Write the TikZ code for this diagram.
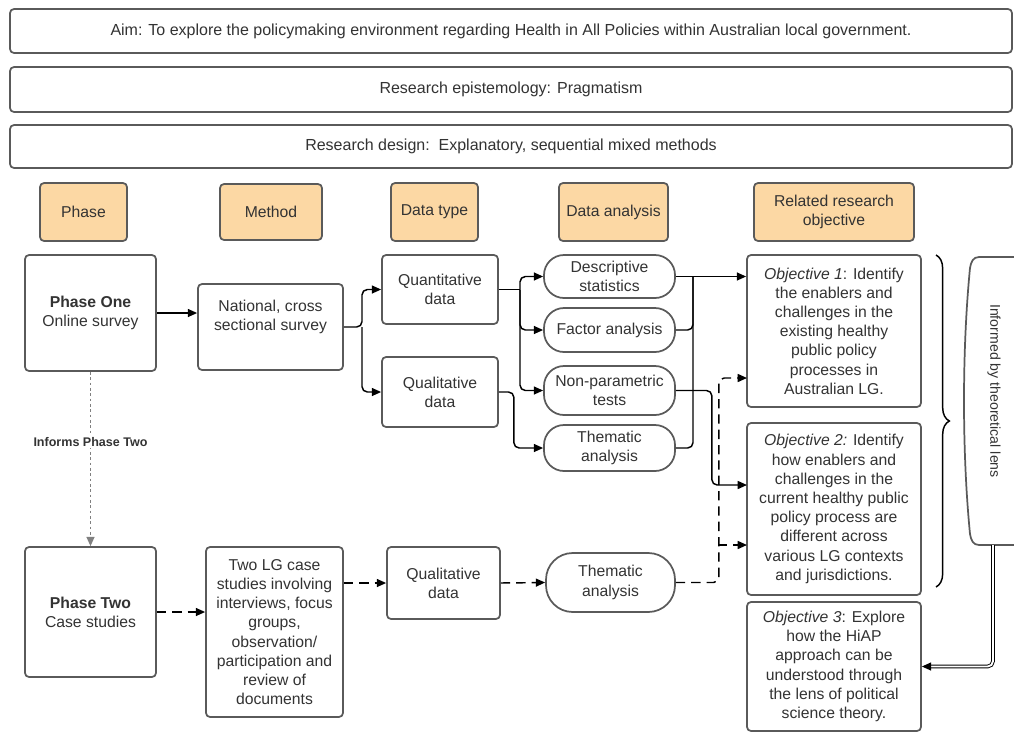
\documentclass[tikz,border=0pt]{standalone}
\usepackage{fontspec}
\setmainfont{Liberation Sans}
\usetikzlibrary{arrows.meta,decorations.pathreplacing,calc}
\definecolor{bord}{HTML}{5A5A5A}
\definecolor{txt}{HTML}{333333}
\definecolor{hdr}{RGB}{252,216,164}
\begin{document}
\begin{tikzpicture}[x=0.75pt,y=-0.75pt,
 wh/.style 2 args={minimum width=#1*0.75pt, minimum height=#2*0.75pt},
 box/.style={draw=bord, line width=1.3pt, rounded corners=3pt, fill=white, inner sep=0pt, text=txt, align=center, font=\fontsize{11.8}{14.4}\selectfont},
 hbox/.style={box, fill=hdr},
 topbox/.style={box, font=\fontsize{12}{14}\selectfont},
 pill/.style={box, rounded corners=15pt},
 lbl/.style={text=txt, align=center, inner sep=0pt, font=\fontsize{11.8}{14.4}\selectfont},
 conn/.style={draw=black, line width=1.1pt},
 arr/.style={conn, -{Triangle[length=7pt,width=6pt]}},
 dsh/.style={dash pattern=on 7pt off 4.5pt},
]
\useasboundingbox (0,0) rectangle (1014,733);

% top boxes
\node[topbox, wh={1002}{44}] (aim) at (511,31) {Aim: To explore the policymaking environment regarding Health in All Policies within Australian local government.};
\node[topbox, wh={1002}{45}] (epi) at (511,89.5) {Research epistemology: Pragmatism};
\node[topbox, wh={1002}{43}] (des) at (511,146.5) {Research design:\ \ Explanatory, sequential mixed methods};

% headers
\node[hbox, wh={87}{58}] (hphase) at (83.5,212) {Phase};
\node[hbox, wh={102}{56}] (hmethod) at (271,212) {Method};
\node[hbox, wh={87}{58}] (hdtype) at (434.5,212) {Data type};
\node[hbox, wh={109}{58}] (hanal) at (613.5,212) {Data analysis};
\node[hbox, wh={160}{58}] (hobj) at (834,212) {Related research\\objective};

% phase one row
\node[box, wh={131}{116}] (p1) at (90.5,313) {\textbf{Phase One}\\Online survey};
\node[box, wh={145}{86}] (nat) at (270.5,327) {};
\node[lbl] (natt) at (270.5,317) {National, cross\\sectional survey};
\node[box, wh={116}{69}] (quant) at (440,289.5) {Quantitative\\data};
\node[box, wh={116}{70}] (qual) at (440,392) {Qualitative\\data};
\node[pill, wh={131}{43}] (desc) at (609.5,276.5) {Descriptive\\statistics};
\node[pill, wh={131}{44}] (fact) at (609.5,330) {Factor analysis};
\node[pill, wh={131}{49}] (nonp) at (609.5,390.5) {Non-parametric\\tests};
\node[pill, wh={131}{46}] (them) at (609.5,448) {Thematic\\analysis};

% objectives
\node[box, wh={174}{152}] (obj1) at (834,331) {\textit{Objective 1}: Identify\\the enablers and\\challenges in the\\existing healthy\\public policy\\processes in\\Australian LG.};
\node[box, wh={174}{172}] (obj2) at (834,509) {\textit{Objective 2:} Identify\\how enablers and\\challenges in the\\current healthy public\\policy process are\\different across\\various LG contexts\\and jurisdictions.};
\node[box, wh={174}{129}] (obj3) at (834,666.5) {\textit{Objective 3}: Explore\\how the HiAP\\approach can be\\understood through\\the lens of political\\science theory.};

% phase two row
\node[box, wh={131}{130}] (p2) at (90.5,612) {\textbf{Phase Two}\\Case studies};
\node[box, wh={137}{170}] (m2) at (274.5,632) {Two LG case\\studies involving\\interviews, focus\\groups,\\observation/\\participation and\\review of\\documents};
\node[box, wh={113}{72}] (qual2) at (443.5,583) {Qualitative\\data};
\node[pill, rounded corners=20pt, wh={129}{59}] (them2) at (610.5,582.5) {Thematic\\analysis};

% lens
\draw[draw=bord, line width=1.3pt, fill=white] (1016,257) -- (979,257) .. controls (973,257) and (971,262) .. (970,268) .. controls (962,350) and (962,452) .. (970,534) .. controls (971,540) and (973,545) .. (979,545) -- (1016,545);
\node[lbl, rotate=-90, font=\fontsize{10.6}{12}\selectfont] (lens) at (994,391) {Informed by theoretical lens};

% brace
\draw[conn, decorate, decoration={brace, amplitude=10pt}] (936,255) -- (936,587);

% coordinates
\coordinate (f1) at (362,327);
\coordinate (f2) at (520,289.5);
\coordinate (j1) at (693,276.5);
\coordinate (o1b) at (747,378);
\coordinate (o2a) at (747,485);
\coordinate (o2b) at (747,545);
\coordinate (dj) at (718,545);
\coordinate (lensb) at (993,545);
\coordinate (o3a) at (929,666.5);

% connectors phase one
\draw[arr] (p1.east) -- (p1.east -| nat.west);
\draw[arr, rounded corners=4pt] (nat.east) -- (f1) |- (quant.west);
\draw[arr, rounded corners=4pt] (f1) |- (qual.west);
\draw[conn] (quant.east) -- (f2);
\draw[arr, rounded corners=4pt] (f2) |- (desc.west);
\draw[arr, rounded corners=4pt] (f2) |- (fact.west);
\draw[arr, rounded corners=4pt] (f2) |- (nonp.west);
\draw[arr, rounded corners=4pt] (qual.east) -- ++(15,0) |- (them.west);
\draw[arr] (desc.east) -- (desc.east -| obj1.west);
\draw[conn, rounded corners=4pt] (fact.east) -| (j1);
\draw[conn, rounded corners=4pt] (them.east) -| (j1);
\draw[arr, rounded corners=4pt] (nonp.east) -- ++(36,0) |- (o2a);

% phase two connectors
\draw[draw=gray, line width=1.1pt, dash pattern=on 2pt off 2pt, -{Triangle[length=7pt,width=6pt]}] (p1.south) -- node[pos=0.403, fill=white, inner sep=1pt, text=txt, font=\bfseries\fontsize{9.4}{11}\selectfont] (inf) {Informs Phase Two} (p2.north);
\draw[arr, dsh] (p2.east) -- (p2.east -| m2.west);
\draw[arr, dsh] (qual2.west -| m2.east) -- (qual2.west);
\draw[arr, dsh] (qual2.east) -- (them2.west);
\draw[arr, dsh, rounded corners=4pt] (them2.east) -- ++(43,0) |- (o1b);
\draw[arr, dsh] (dj) -- (o2b);

% lens to objective 3
\draw[draw=black, double=white, double distance=1.4pt, line width=0.7pt, rounded corners=4pt] (lensb) |- (o3a);
\draw[arr] (o3a) -- (obj3.east);
\end{tikzpicture}
\end{document}
